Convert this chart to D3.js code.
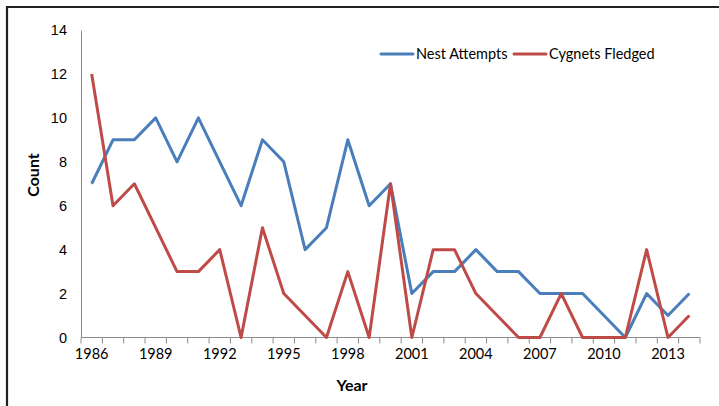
<!DOCTYPE html>
<html>
<head>
<meta charset="utf-8">
<script src="https://cdn.jsdelivr.net/npm/d3@7"></script>
<style>
  body { margin: 0; background: #fff; }
  svg { display: block; font-family: Lato, "Open Sans", sans-serif; }
</style>
</head>
<body>
<script>
// data
var years = d3.range(1986, 2015);
var nestAttempts = [7, 9, 9, 10, 8, 10, 8, 6, 9, 8, 4, 5, 9, 6, 7, 2, 3, 3, 4, 3, 3, 2, 2, 2, 1, 0, 2, 1, 2];
var cygnetsFledged = [12, 6, 7, 5, 3, 3, 4, 0, 5, 2, 1, 0, 3, 0, 7, 0, 4, 4, 2, 1, 0, 0, 2, 0, 0, 0, 4, 0, 1];
var yearLabels = [1986, 1989, 1992, 1995, 1998, 2001, 2004, 2007, 2010, 2013];
var countTicks = [0, 2, 4, 6, 8, 10, 12, 14];

var series = [
  { name: "Nest Attempts", values: nestAttempts, color: "#4a7ebb" },
  { name: "Cygnets Fledged", values: cygnetsFledged, color: "#be4b48" }
];

var svg = d3.select("body").append("svg")
    .attr("width", 719)
    .attr("height", 406);

// frame (cropped at right and bottom)
svg.append("path")
    .attr("d", "M7,406 V7 H719")
    .attr("fill", "none")
    .attr("stroke", "#222")
    .attr("stroke-width", 2.2);

// scales
var x = d3.scaleBand()
    .domain(years)
    .range([81, 700]);
var y = d3.scaleLinear()
    .domain([0, 14])
    .range([337.5, 30]);

function cx(yr) { return x(yr) + x.bandwidth() / 2; }

// y axis
var yAxis = svg.append("g")
    .attr("transform", "translate(81,0)")
    .call(d3.axisLeft(y).tickValues(countTicks).tickSize(0).tickPadding(14));
yAxis.select(".domain").attr("stroke", "#8c8c8c").attr("stroke-width", 1);
yAxis.selectAll("text").attr("font-size", "14.5px").attr("fill", "#000");

// x axis: tick marks between categories
var xEdges = years.map(function (d) { return x(d); }).concat([x.range()[1]]);
var xAxisG = svg.append("g").attr("transform", "translate(0,337.5)");
xAxisG.append("line")
    .attr("x1", 81).attr("x2", 700)
    .attr("stroke", "#8c8c8c");
xAxisG.selectAll("line.tick")
    .data(xEdges)
    .enter()
    .append("line")
    .attr("class", "tick")
    .attr("x1", function (d) { return d; })
    .attr("x2", function (d) { return d; })
    .attr("y1", 0).attr("y2", 6)
    .attr("stroke", "#8c8c8c");
xAxisG.selectAll("text")
    .data(yearLabels)
    .enter()
    .append("text")
    .attr("x", function (d) { return cx(d); })
    .attr("y", 21)
    .attr("text-anchor", "middle")
    .attr("font-size", "14.5px")
    .text(function (d) { return d; });

// axis titles
svg.append("text")
    .attr("x", 352)
    .attr("y", 391)
    .attr("text-anchor", "middle")
    .attr("font-size", "16px")
    .attr("font-weight", "bold")
    .text("Year");
svg.append("text")
    .attr("transform", "translate(39,175) rotate(-90)")
    .attr("text-anchor", "middle")
    .attr("font-size", "16px")
    .attr("font-weight", "bold")
    .text("Count");

// lines
var line = d3.line()
    .x(function (d, i) { return cx(years[i]); })
    .y(function (d) { return y(d); });

svg.selectAll("path.series")
    .data(series)
    .enter()
    .append("path")
    .attr("class", "series")
    .attr("d", function (d) { return line(d.values); })
    .attr("fill", "none")
    .attr("stroke", function (d) { return d.color; })
    .attr("stroke-width", 3)
    .attr("stroke-linejoin", "round");

// legend
var legendPos = [381, 514];
var legend = svg.selectAll("g.legend")
    .data(series)
    .enter()
    .append("g")
    .attr("class", "legend")
    .attr("transform", function (d, i) { return "translate(" + legendPos[i] + ",54)"; });
legend.append("line")
    .attr("x1", 0).attr("x2", 32)
    .attr("stroke", function (d) { return d.color; })
    .attr("stroke-width", 3)
    .attr("stroke-linecap", "round");
legend.append("text")
    .attr("x", 35)
    .attr("y", 5)
    .attr("font-size", "14.5px")
    .text(function (d) { return d.name; });
</script>
</body>
</html>
